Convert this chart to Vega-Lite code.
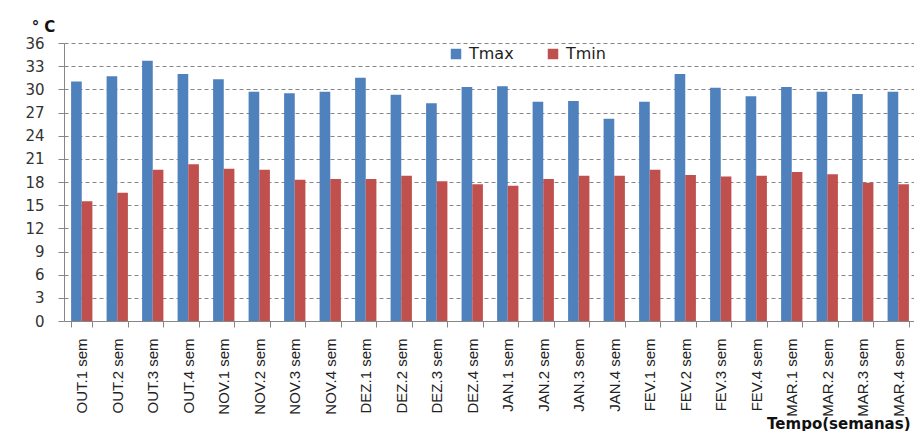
{
  "$schema": "https://vega.github.io/schema/vega-lite/v6.json",
  "autosize": {"type": "none"},
  "padding": {"left": 64, "top": 43, "right": 0, "bottom": 110},
  "width": 852,
  "height": 278,
  "background": "white",
  "config": {"view": {"stroke": null}},
  "data": {"values": [
    {"semana": "OUT.1 sem", "serie": "Tmax", "valor": 31.0},
    {"semana": "OUT.1 sem", "serie": "Tmin", "valor": 15.5},
    {"semana": "OUT.2 sem", "serie": "Tmax", "valor": 31.7},
    {"semana": "OUT.2 sem", "serie": "Tmin", "valor": 16.6},
    {"semana": "OUT.3 sem", "serie": "Tmax", "valor": 33.7},
    {"semana": "OUT.3 sem", "serie": "Tmin", "valor": 19.6},
    {"semana": "OUT.4 sem", "serie": "Tmax", "valor": 32.0},
    {"semana": "OUT.4 sem", "serie": "Tmin", "valor": 20.3},
    {"semana": "NOV.1 sem", "serie": "Tmax", "valor": 31.3},
    {"semana": "NOV.1 sem", "serie": "Tmin", "valor": 19.7},
    {"semana": "NOV.2 sem", "serie": "Tmax", "valor": 29.7},
    {"semana": "NOV.2 sem", "serie": "Tmin", "valor": 19.6},
    {"semana": "NOV.3 sem", "serie": "Tmax", "valor": 29.5},
    {"semana": "NOV.3 sem", "serie": "Tmin", "valor": 18.3},
    {"semana": "NOV.4 sem", "serie": "Tmax", "valor": 29.7},
    {"semana": "NOV.4 sem", "serie": "Tmin", "valor": 18.4},
    {"semana": "DEZ.1 sem", "serie": "Tmax", "valor": 31.5},
    {"semana": "DEZ.1 sem", "serie": "Tmin", "valor": 18.4},
    {"semana": "DEZ.2 sem", "serie": "Tmax", "valor": 29.3},
    {"semana": "DEZ.2 sem", "serie": "Tmin", "valor": 18.8},
    {"semana": "DEZ.3 sem", "serie": "Tmax", "valor": 28.2},
    {"semana": "DEZ.3 sem", "serie": "Tmin", "valor": 18.1},
    {"semana": "DEZ.4 sem", "serie": "Tmax", "valor": 30.3},
    {"semana": "DEZ.4 sem", "serie": "Tmin", "valor": 17.7},
    {"semana": "JAN.1 sem", "serie": "Tmax", "valor": 30.4},
    {"semana": "JAN.1 sem", "serie": "Tmin", "valor": 17.5},
    {"semana": "JAN.2 sem", "serie": "Tmax", "valor": 28.4},
    {"semana": "JAN.2 sem", "serie": "Tmin", "valor": 18.4},
    {"semana": "JAN.3 sem", "serie": "Tmax", "valor": 28.5},
    {"semana": "JAN.3 sem", "serie": "Tmin", "valor": 18.8},
    {"semana": "JAN.4 sem", "serie": "Tmax", "valor": 26.2},
    {"semana": "JAN.4 sem", "serie": "Tmin", "valor": 18.8},
    {"semana": "FEV.1 sem", "serie": "Tmax", "valor": 28.4},
    {"semana": "FEV.1 sem", "serie": "Tmin", "valor": 19.6},
    {"semana": "FEV.2 sem", "serie": "Tmax", "valor": 32.0},
    {"semana": "FEV.2 sem", "serie": "Tmin", "valor": 18.9},
    {"semana": "FEV.3 sem", "serie": "Tmax", "valor": 30.2},
    {"semana": "FEV.3 sem", "serie": "Tmin", "valor": 18.7},
    {"semana": "FEV.4 sem", "serie": "Tmax", "valor": 29.1},
    {"semana": "FEV.4 sem", "serie": "Tmin", "valor": 18.8},
    {"semana": "MAR.1 sem", "serie": "Tmax", "valor": 30.3},
    {"semana": "MAR.1 sem", "serie": "Tmin", "valor": 19.3},
    {"semana": "MAR.2 sem", "serie": "Tmax", "valor": 29.7},
    {"semana": "MAR.2 sem", "serie": "Tmin", "valor": 19.0},
    {"semana": "MAR.3 sem", "serie": "Tmax", "valor": 29.4},
    {"semana": "MAR.3 sem", "serie": "Tmin", "valor": 17.9},
    {"semana": "MAR.4 sem", "serie": "Tmax", "valor": 29.7},
    {"semana": "MAR.4 sem", "serie": "Tmin", "valor": 17.7}
  ]},
  "mark": {"type": "bar"},
  "encoding": {
    "x": {
      "field": "semana", "type": "nominal", "sort": null,
      "scale": {"paddingInner": 0.4, "paddingOuter": 0.2},
      "axis": {
        "title": "Tempo(semanas)",
        "titleFont": "DejaVu Sans", "titleFontSize": 15, "titleFontWeight": "bold", "titleColor": "#111",
        "titleAnchor": "end", "titleAlign": "right", "titleBaseline": "middle",
        "titleX": 846, "titleY": 102,
        "labelAngle": -90, "labelFont": "Liberation Sans", "labelFontSize": 15, "labelColor": "#222",
        "labelPadding": 11, "labelAlign": "right", "labelBaseline": "middle",
        "tickBand": "extent", "tickSize": 6, "tickColor": "#868686",
        "domainColor": "#868686", "grid": false
      }
    },
    "xOffset": {"field": "serie", "type": "nominal", "scale": {"paddingInner": 0, "paddingOuter": 0}},
    "y": {
      "field": "valor", "type": "quantitative",
      "scale": {"domain": [0, 36], "nice": false},
      "axis": {
        "values": [0, 3, 6, 9, 12, 15, 18, 21, 24, 27, 30, 33, 36],
        "title": "° C", "titleAngle": 0, "titleFont": "DejaVu Sans", "titleFontSize": 15, "titleFontWeight": "bold",
        "titleColor": "#111", "titleAlign": "center", "titleBaseline": "middle", "titleX": -21, "titleY": -17,
        "labelFont": "DejaVu Sans", "labelFontSize": 15, "labelColor": "#333", "labelPadding": 14,
        "tickSize": 6, "tickColor": "#868686", "domainColor": "#868686",
        "grid": true, "gridColor": "#868686", "gridDash": [4, 3], "gridWidth": 1
      }
    },
    "color": {
      "field": "serie", "type": "nominal",
      "scale": {"domain": ["Tmax", "Tmin"], "range": ["#4F81BD", "#C0504D"]},
      "legend": {
        "title": null, "orient": "none", "legendX": 384, "legendY": 3, "direction": "horizontal",
        "symbolType": "square", "symbolSize": 110, "symbolStrokeWidth": 0,
        "labelFont": "DejaVu Sans", "labelFontSize": 16, "labelColor": "#222", "labelOffset": 5,
        "columnPadding": 31, "fillColor": "white"
      }
    }
  }
}
